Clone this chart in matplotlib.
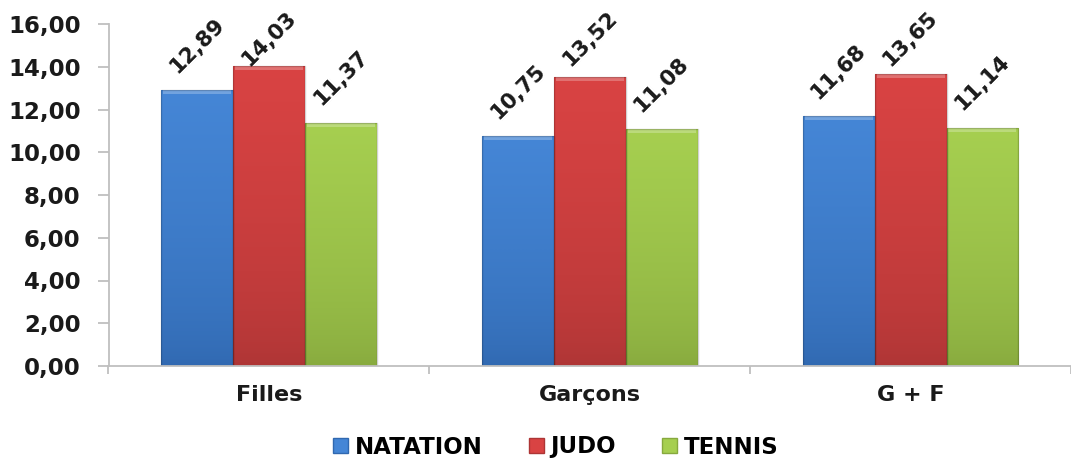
import numpy as np
import matplotlib
matplotlib.use("Agg")
import matplotlib.pyplot as plt
from matplotlib.patches import Rectangle
from matplotlib.colors import LinearSegmentedColormap

categories = ["Filles", "Garçons", "G + F"]
series_names = ["NATATION", "JUDO", "TENNIS"]
natation = [12.89, 10.75, 11.68]
judo = [14.03, 13.52, 13.65]
tennis = [11.37, 11.08, 11.14]
yticks = [0, 2, 4, 6, 8, 10, 12, 14, 16]

series = [natation, judo, tennis]
top_colors = ["#4586D6", "#D94343", "#A6CF50"]
bot_colors = ["#3068B0", "#AD3535", "#87A93E"]

plt.rcParams['font.family'] = ['DejaVu Sans']
W, H = 1071, 463
fig = plt.figure(figsize=(W / 100, H / 100), dpi=100)
ax = fig.add_axes([108.5 / W, 1 - 366 / H, 1 - 108.5 / W, (366 - 24) / H])

ncat = len(categories)
bw = 0.224
x = np.arange(ncat)
ax.set_xlim(-0.5, 2.5 - 10 / 324)
ax.set_ylim(0, 16)

grad = np.linspace(0, 1, 256).reshape(-1, 1) ** 0.6
for si, vals in enumerate(series):
    cmap = LinearSegmentedColormap.from_list("g%d" % si, [bot_colors[si], top_colors[si]])
    offs = (si - 1) * bw
    bars = ax.bar(x + offs, vals, width=bw, color=top_colors[si], edgecolor="none", zorder=2)
    for b, v in zip(bars, vals):
        x0 = b.get_x()
        im = ax.imshow(grad, cmap=cmap, origin="lower", aspect="auto",
                       extent=[x0, x0 + bw, 0, v], zorder=2.1, interpolation="bilinear")
        im.set_clip_path(b)
        ax.add_patch(Rectangle((x0 + 0.006, v - 0.18), bw - 0.012, 0.18,
                               facecolor="white", alpha=0.25, edgecolor="none", zorder=2.2))
        ax.add_patch(Rectangle((x0, 0), bw, v, facecolor="none",
                               edgecolor=(0, 0, 0, 0.18), linewidth=1.0, zorder=2.3))
    for xi, v in zip(x + offs, vals):
        top_px = 366 - v * (342 / 16)
        off_px = min(45, top_px - 39)
        ax.annotate(f"{v:.2f}".replace(".", ","), (xi, v), xytext=(0, off_px * 0.72),
                    textcoords="offset points", rotation=45, ha="center", va="center",
                    fontsize=15.5, fontweight="bold", color="#1a1a1a", zorder=5,
                    annotation_clip=False)

ax.set_yticks(yticks)
ax.set_yticklabels([f"{t:.2f}".replace(".", ",") for t in yticks],
                   fontsize=16.5, fontweight="bold", color="#1a1a1a")
ax.set_xticks([-0.5, 0.5, 1.5, 2.5], labels=[])
ax.set_xticks(x, labels=categories, minor=True)
ax.tick_params(axis="x", which="minor", length=0, pad=14, labelsize=16)
for lab in ax.get_xticklabels(minor=True):
    lab.set_fontweight("bold")
    lab.set_color("#1a1a1a")
ax.tick_params(axis="x", which="major", length=6, color="#BFBFBF", width=1.3)
ax.tick_params(axis="y", length=8, color="#BFBFBF", width=1.3, pad=12)

for s in ["top", "right"]:
    ax.spines[s].set_visible(False)
for s in ["left", "bottom"]:
    ax.spines[s].set_color("#BFBFBF")
    ax.spines[s].set_linewidth(1.3)

handles = [Rectangle((0, 0), 1, 1, facecolor=top_colors[i], edgecolor=bot_colors[i]) for i in range(3)]
fig.legend(handles, series_names, loc="center", bbox_to_anchor=(556 / W, 1 - 447 / H),
           ncol=3, frameon=False, prop={"weight": "bold", "size": 16.5},
           handlelength=0.65, handleheight=0.6, handletextpad=0.3, columnspacing=2.0)

fig.savefig("out.png", dpi=100)
